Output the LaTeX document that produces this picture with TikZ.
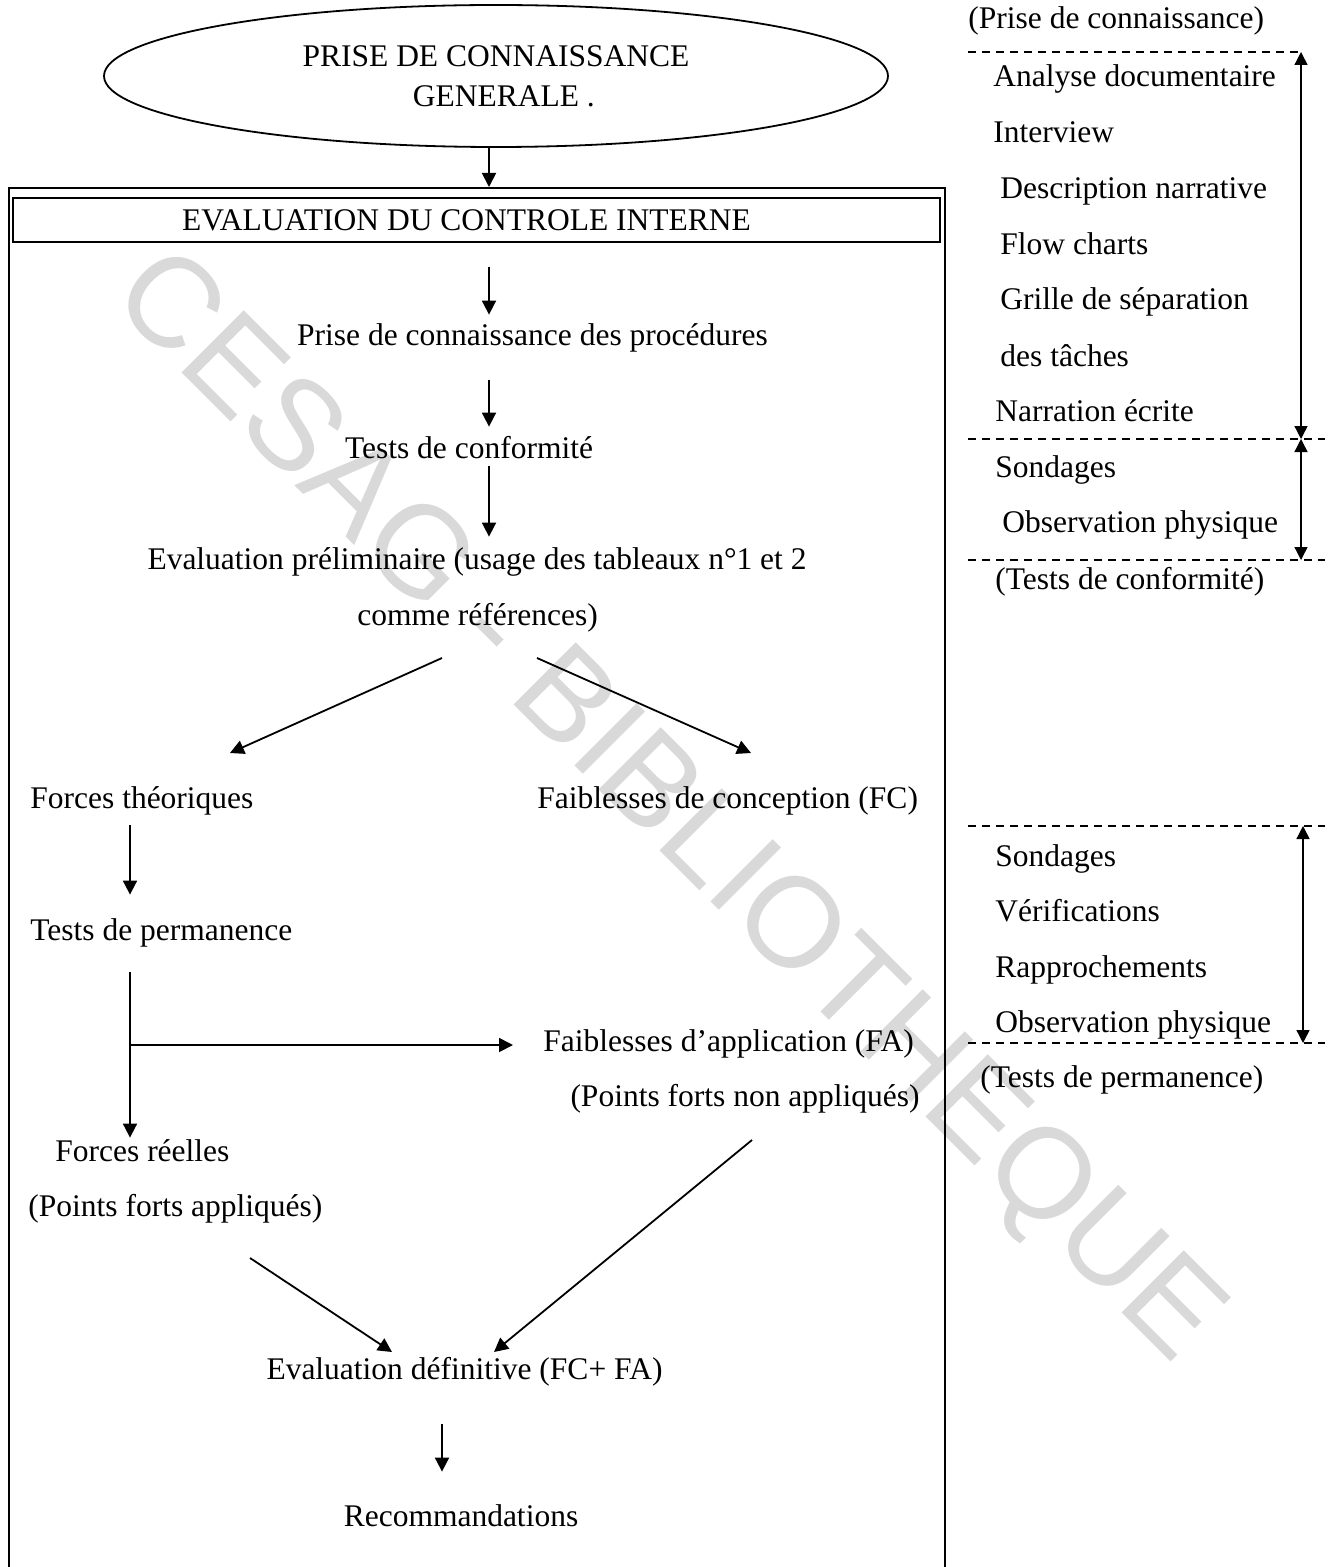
\documentclass[tikz,border=0pt]{standalone}
\usepackage{fontspec}
\setmainfont{Liberation Serif}
\newfontfamily\markfont{Liberation Sans}
\usetikzlibrary{arrows.meta,shapes.geometric}
\begin{document}
\begin{tikzpicture}[x=0.5pt,y=-0.5pt,
  every node/.style={inner sep=0pt, font=\fontsize{15.75}{20}\selectfont},
  tx/.style={text height=11pt, text depth=3.5pt},
  lft/.style={tx, anchor=base west},
  ctr/.style={tx, anchor=base},
  rgt/.style={tx, anchor=base east},
  arr/.style={-{Triangle[length=7pt,width=7pt]}, line width=0.9pt},
  darr/.style={{Triangle[length=6.5pt,width=6.5pt]}-{Triangle[length=6.5pt,width=6.5pt]}, line width=0.7pt},
  sepline/.style={dash pattern=on 4pt off 3pt, line width=0.6pt},
  stamp/.style={text=black!15, font=\markfont\fontsize{64}{64}\selectfont},
]
\useasboundingbox (0,0) rectangle (1333,1567);

% library stamp across the page
\node[stamp, rotate=-45, anchor=base] (stampmark) at (642,833) {CESAG - BIBLIOTHEQUE};

\coordinate (spine) at (489,0);

% general knowledge phase
\node[draw, ellipse, line width=0.9pt, minimum width=392pt, minimum height=71pt, align=center]
  (gen) at (496,76) {PRISE DE CONNAISSANCE\\GENERALE\rlap{ .}};

% internal control frame and its title bar
\node[draw, line width=0.9pt, anchor=north west, minimum width=468pt, minimum height=720pt]
  (frame) at (8,187) {};
\node[draw, line width=0.7pt, minimum width=463.5pt, minimum height=22pt]
  (title) at (476.5,220) {};
\node[ctr] (titletext) at (466.5,231) {EVALUATION DU CONTROLE INTERNE};

\draw[arr] (gen.south -| spine) -- (frame.north -| spine);

% main sequence
\node[ctr] (proc) at (532.5,346) {Prise de connaissance des procédures};
\node[ctr] (conf) at (469,458) {Tests de conformité};
\node[ctr] (prelimA) at (477,569) {Evaluation préliminaire (usage des tableaux n°1 et 2};
\node[ctr] (prelimB) at (477.5,625) {comme références)};

\draw[arr, shorten <=12pt, shorten >=4.5pt] (title.south -| spine) -- (proc.north -| spine);
\draw[arr, shorten <=13.5pt, shorten >=4.5pt] (proc.south -| spine) -- (conf.north -| spine);
\draw[arr, shorten <=0.5pt, shorten >=5pt] (conf.south -| spine) -- (prelimA.north -| spine);

\node[lft] (fth) at (30,808) {Forces théoriques};
\node[lft] (fc) at (537,808) {Faiblesses de conception (FC)};

\coordinate (splitL) at (442,658);
\coordinate (splitR) at (537,658);
\coordinate (tipL) at (230,753);
\coordinate (tipR) at (751,753);
\draw[arr] (splitL) -- (tipL);
\draw[arr] (splitR) -- (tipR);

\node[lft] (perm) at (30,940) {Tests de permanence};
\coordinate (leg) at (130,0);
\draw[arr, shorten <=5pt, shorten >=11.5pt] (fth.south -| leg) -- (perm.north -| leg);

\node[lft] (fa) at (543,1051) {Faiblesses d’application (FA)};
\node[rgt] (fanon) at (920,1106) {(Points forts non appliqués)};
\node[lft] (fr) at (55,1161) {Forces réelles};
\node[lft] (frp) at (28,1216) {(Points forts appliqués)};

\coordinate (branch) at (130,1045);
\draw[arr, shorten <=12.5pt, shorten >=0.5pt] (perm.south -| leg) -- (fr.north -| leg);
\draw[arr, shorten >=15pt] (branch) -- (branch -| fa.west);

\node[ctr] (defin) at (464.5,1379) {Evaluation définitive (FC+ FA)};
\node[ctr] (reco) at (461,1526) {Recommandations};

\coordinate (fromFR) at (250,1258);
\coordinate (fromFA) at (752,1140);
\coordinate (toL) at (392,1352);
\coordinate (toR) at (494,1352);
\draw[arr] (fromFR) -- (toL);
\draw[arr] (fromFA) -- (toR);
\coordinate (down) at (442,0);
\draw[arr, shorten <=19pt, shorten >=16pt] (defin.south -| down) -- (reco.north -| down);

% side column: techniques per phase
\node[lft] (hdA) at (968,29) {(Prise de connaissance)};
\node[lft] (t1) at (993,87) {Analyse documentaire};
\node[lft] (t2) at (993,143) {Interview};
\node[lft] (t3) at (1000,199) {Description narrative};
\node[lft] (t4) at (1000,255) {Flow charts};
\node[lft] (t5) at (1000,310) {Grille de séparation};
\node[lft] (t6) at (1000,366) {des tâches};
\node[lft] (t7) at (995,421) {Narration écrite};
\node[lft] (t8) at (995,477) {Sondages};
\node[lft] (t9) at (1002,532) {Observation physique};
\node[lft] (hdB) at (995,589) {(Tests de conformité)};

\node[lft] (p1) at (995,866) {Sondages};
\node[lft] (p2) at (995,921) {Vérifications};
\node[lft] (p3) at (995,977) {Rapprochements};
\node[lft] (p4) at (995,1032) {Observation physique};
\node[lft] (hdC) at (980,1087) {(Tests de permanence)};

\coordinate (rA) at (1301,52);
\coordinate (rB) at (1301,439);
\coordinate (rC) at (1301,560);
\coordinate (rD) at (1303,826);
\coordinate (rE) at (1303,1043);

\draw[sepline] (968,52) -- (rA);
\draw[sepline] (968,439) -- (1325,439);
\draw[sepline] (968,560) -- (1325,560);
\draw[sepline] (968,826) -- (1325,826);
\draw[sepline] (968,1043) -- (1325,1043);

\draw[darr] (rA) -- (rB);
\draw[darr] (rB) -- (rC);
\draw[darr] (rD) -- (rE);
\end{tikzpicture}
\end{document}
